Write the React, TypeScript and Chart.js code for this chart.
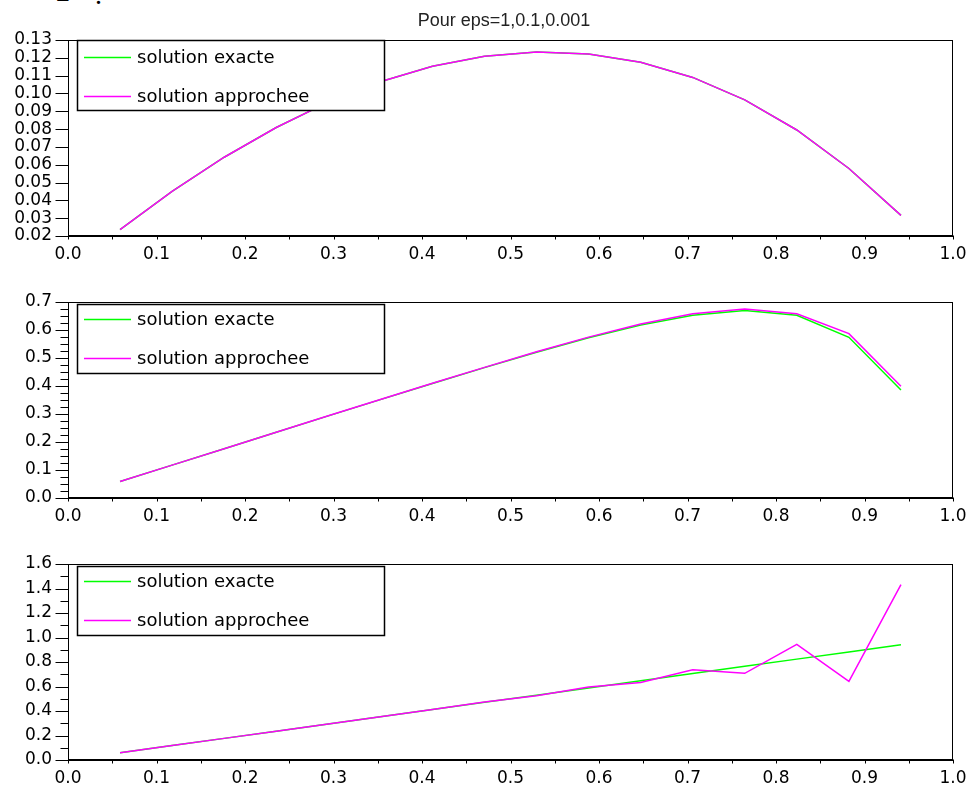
import React, { useEffect, useRef } from "react";
import { Chart, registerables } from "chart.js";

Chart.register(...registerables);

// ---------- data ----------
const X_VALUES = [0.0588, 0.1176, 0.1765, 0.2353, 0.2941, 0.3529, 0.4118, 0.4706, 0.5294, 0.5882, 0.6471, 0.7059, 0.7647, 0.8235, 0.8824, 0.9412];

const TOP_EXACT = [0.0236, 0.045, 0.0642, 0.0809, 0.0951, 0.1066, 0.1153, 0.1209, 0.1233, 0.1222, 0.1175, 0.109, 0.0964, 0.0795, 0.0579, 0.0316];
const TOP_APPROX = [0.0236, 0.045, 0.0642, 0.0809, 0.0951, 0.1066, 0.1153, 0.1209, 0.1233, 0.1222, 0.1175, 0.109, 0.0964, 0.0795, 0.0579, 0.0316];

const MID_EXACT = [0.0587, 0.1175, 0.1762, 0.2348, 0.2933, 0.3514, 0.409, 0.4656, 0.5204, 0.572, 0.6178, 0.653, 0.6696, 0.6523, 0.574, 0.3858];
const MID_APPROX = [0.0587, 0.1175, 0.1762, 0.2349, 0.2935, 0.3517, 0.4096, 0.4666, 0.522, 0.5745, 0.6215, 0.658, 0.675, 0.658, 0.587, 0.399];

const BOT_EXACT = [0.0588, 0.1176, 0.1765, 0.2353, 0.2941, 0.3529, 0.4118, 0.4706, 0.5294, 0.5882, 0.6471, 0.7059, 0.7647, 0.8235, 0.8824, 0.9412];
const BOT_APPROX = [0.0588, 0.1176, 0.1765, 0.2353, 0.2941, 0.3529, 0.4128, 0.4726, 0.5254, 0.5952, 0.6321, 0.7359, 0.7077, 0.9435, 0.6424, 1.4312];

const TITLE = "Pour eps=1,0.1,0.001";
const LEGEND_LABELS = ["solution exacte", "solution approchee"];

const X_TICKS = [0, 0.1, 0.2, 0.3, 0.4, 0.5, 0.6, 0.7, 0.8, 0.9, 1.0];
const X_MINOR_TICKS = [0.05, 0.15, 0.25, 0.35, 0.45, 0.55, 0.65, 0.75, 0.85, 0.95];

const TOP_Y_TICKS = [0.02, 0.03, 0.04, 0.05, 0.06, 0.07, 0.08, 0.09, 0.1, 0.11, 0.12, 0.13];
const TOP_Y_MINOR: number[] = [];
const MID_Y_TICKS = [0, 0.1, 0.2, 0.3, 0.4, 0.5, 0.6, 0.7];
const MID_Y_MINOR = [0.025, 0.05, 0.075, 0.125, 0.15, 0.175, 0.225, 0.25, 0.275, 0.325, 0.35, 0.375, 0.425, 0.45, 0.475, 0.525, 0.55, 0.575, 0.625, 0.65, 0.675];
const BOT_Y_TICKS = [0, 0.2, 0.4, 0.6, 0.8, 1.0, 1.2, 1.4, 1.6];
const BOT_Y_MINOR = [0.1, 0.3, 0.5, 0.7, 0.9, 1.1, 1.3, 1.5];

const GREEN = "#00ff00";
const MAGENTA = "#ff00ff";
const TICK_FONT = { family: "DejaVu Sans", size: 17 };

type PanelProps = {
  top: number;
  height: number;
  padTop: number;
  exact: number[];
  approx: number[];
  yMin: number;
  yMax: number;
  yTicks: number[];
  yMinor: number[];
  yDecimals: number;
  legendOffset: number;
  legendHeight: number;
  row1: number;
  row2: number;
  title?: string;
};

function Panel(p: PanelProps) {
  const ref = useRef<HTMLCanvasElement | null>(null);

  useEffect(() => {
    if (!ref.current) return;
    const decor = {
      id: "decor",
      afterDatasetsDraw(chart: any) {
        const { ctx, chartArea: a, scales } = chart;
        const xs = scales.x;
        const ys = scales.y;
        ctx.save();
        ctx.strokeStyle = "#000";
        ctx.lineWidth = 1;
        const L = Math.round(a.left) + 0.5;
        const T = Math.round(a.top) + 0.5;
        const R = Math.round(a.right) - 0.5;
        const B = Math.round(a.bottom) - 0.5;
        // frame
        ctx.strokeRect(L, T, R - L, B - T);
        // ticks
        ctx.beginPath();
        for (const v of [...X_TICKS, ...X_MINOR_TICKS]) {
          const px = Math.round(xs.getPixelForValue(v)) + 0.5;
          ctx.moveTo(px, B);
          ctx.lineTo(px, B + 4);
        }
        for (const v of p.yTicks) {
          const py = Math.round(ys.getPixelForValue(v)) + 0.5;
          ctx.moveTo(L - 13, py);
          ctx.lineTo(L, py);
        }
        for (const v of p.yMinor) {
          const py = Math.round(ys.getPixelForValue(v)) + 0.5;
          ctx.moveTo(L - 8, py);
          ctx.lineTo(L, py);
        }
        ctx.stroke();

        // legend box
        const bx = 77.5;
        const by = Math.round(a.top) + p.legendOffset + 0.5;
        const bw = 307;
        const bh = p.legendHeight;
        ctx.fillStyle = "#fff";
        ctx.fillRect(bx, by, bw, bh);
        ctx.lineWidth = 1.5;
        ctx.strokeRect(bx, by, bw, bh);
        const rows = [
          { y: by + p.row1, color: GREEN, label: LEGEND_LABELS[0] },
          { y: by + p.row2, color: MAGENTA, label: LEGEND_LABELS[1] },
        ];
        ctx.font = "18px 'DejaVu Sans'";
        ctx.textBaseline = "middle";
        ctx.textAlign = "left";
        for (const r of rows) {
          ctx.strokeStyle = r.color;
          ctx.lineWidth = 1.5;
          ctx.beginPath();
          ctx.moveTo(84, r.y);
          ctx.lineTo(131, r.y);
          ctx.stroke();
          ctx.fillStyle = "#000";
          ctx.fillText(r.label, 137, r.y + 1);
        }

        if (p.title) {
          ctx.font = "18px 'Liberation Sans'";
          ctx.fillStyle = "#222";
          ctx.textAlign = "center";
          ctx.textBaseline = "alphabetic";
          ctx.fillText(p.title, 504, 26);
        }
        ctx.restore();
      },
    };

    const chart = new Chart(ref.current, {
      type: "line",
      data: {
        datasets: [
          {
            label: LEGEND_LABELS[0],
            data: X_VALUES.map((x, i) => ({ x, y: p.exact[i] })),
            borderColor: GREEN,
            borderWidth: 1.5,
            pointRadius: 0,
            tension: 0,
            fill: false,
            order: 1,
          },
          {
            label: LEGEND_LABELS[1],
            data: X_VALUES.map((x, i) => ({ x, y: p.approx[i] })),
            borderColor: MAGENTA,
            borderWidth: 1.5,
            pointRadius: 0,
            tension: 0,
            fill: false,
            order: 0,
          },
        ],
      },
      options: {
        responsive: false,
        animation: false,
        events: [],
        layout: { padding: { top: p.padTop, right: 18, bottom: 0, left: 0 } },
        plugins: {
          legend: { display: false },
          tooltip: { enabled: false },
          title: { display: false },
        },
        scales: {
          x: {
            type: "linear",
            min: 0,
            max: 1,
            afterBuildTicks: (s: any) => {
              s.ticks = X_TICKS.map((v) => ({ value: v }));
            },
            afterFit: (s: any) => {
              s.height = 30;
            },
            ticks: {
              autoSkip: false,
              maxRotation: 0,
              padding: 4,
              color: "#000",
              font: TICK_FONT,
              callback: (v: any) => Number(v).toFixed(1),
            },
            grid: {
              drawOnChartArea: false,
              drawTicks: true,
              tickLength: 4,
              tickColor: "rgba(0,0,0,0)",
            },
            border: { display: true, color: "#000", width: 1 },
          },
          y: {
            type: "linear",
            min: p.yMin,
            max: p.yMax,
            afterBuildTicks: (s: any) => {
              s.ticks = p.yTicks.map((v) => ({ value: v }));
            },
            afterFit: (s: any) => {
              s.width = 68;
            },
            ticks: {
              autoSkip: false,
              padding: 3,
              color: "#000",
              font: TICK_FONT,
              callback: (v: any) => Number(v).toFixed(p.yDecimals),
            },
            grid: {
              drawOnChartArea: false,
              drawTicks: true,
              tickLength: 13,
              tickColor: "rgba(0,0,0,0)",
            },
            border: { display: true, color: "#000", width: 1 },
          },
        },
      },
      plugins: [decor],
    } as any);
    return () => chart.destroy();
  }, []);

  return (
    <canvas
      ref={ref}
      width={971}
      height={p.height}
      style={{ position: "absolute", left: 0, top: p.top, width: 971, height: p.height, display: "block" }}
    />
  );
}

export default function App() {
  return (
    <div style={{ position: "absolute", left: 0, top: 0, width: 971, height: 790, background: "#fff", overflow: "hidden" }}>
      <div
        style={{
          position: "absolute",
          left: 56,
          top: -21.7,
          fontFamily: "'Liberation Serif'",
          fontSize: 28,
          lineHeight: "28px",
          color: "#000",
        }}
      >
        2
      </div>
      <div
        style={{
          position: "absolute",
          left: 95,
          top: -19.5,
          fontFamily: "'Liberation Serif'",
          fontSize: 28,
          lineHeight: "28px",
          color: "#000",
        }}
      >
        .
      </div>
      <Panel
        top={0}
        height={266}
        padTop={40}
        exact={TOP_EXACT}
        approx={TOP_APPROX}
        yMin={0.02}
        yMax={0.13}
        yTicks={TOP_Y_TICKS}
        yMinor={TOP_Y_MINOR}
        yDecimals={2}
        legendOffset={0}
        legendHeight={70}
        row1={17}
        row2={56}
        title={TITLE}
      />
      <Panel
        top={266}
        height={262}
        padTop={36}
        exact={MID_EXACT}
        approx={MID_APPROX}
        yMin={0}
        yMax={0.7}
        yTicks={MID_Y_TICKS}
        yMinor={MID_Y_MINOR}
        yDecimals={1}
        legendOffset={2}
        legendHeight={69}
        row1={15}
        row2={54}
      />
      <Panel
        top={528}
        height={262}
        padTop={36}
        exact={BOT_EXACT}
        approx={BOT_APPROX}
        yMin={0}
        yMax={1.6}
        yTicks={BOT_Y_TICKS}
        yMinor={BOT_Y_MINOR}
        yDecimals={1}
        legendOffset={2}
        legendHeight={69}
        row1={15}
        row2={54}
      />
    </div>
  );
}
